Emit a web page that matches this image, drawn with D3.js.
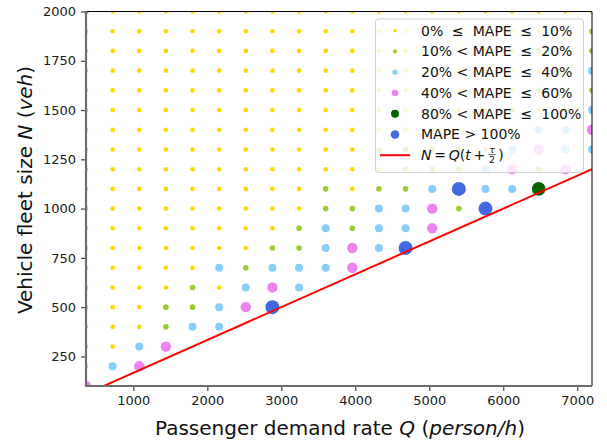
<!DOCTYPE html>
<html>
<head>
<meta charset="utf-8">
<script src="https://cdn.jsdelivr.net/npm/d3@7"></script>
<style>
  html, body { margin: 0; padding: 0; background: #fff; }
  svg { display: block; font-family: "DejaVu Sans", sans-serif; }
</style>
</head>
<body>
<svg id="chart" width="607" height="443"></svg>
<script>
// Passenger demand rate Q (person/h): grid columns
const demandRates = [360, 720, 1080, 1440, 1800, 2160, 2520, 2880, 3240, 3600,
                     3960, 4320, 4680, 5040, 5400, 5760, 6120, 6480, 6840, 7200];
// Vehicle fleet size N (veh): grid rows, top to bottom
const fleetSizes = [2000, 1900, 1800, 1700, 1600, 1500, 1400, 1300, 1200, 1100,
                    1000, 900, 800, 700, 600, 500, 400, 300, 200, 100];
// MAPE class of each simulated case (one string per fleet size, one char per demand rate)
// 0: 0-10%, 1: 10-20%, 2: 20-40%, 3: 40-60%, 4: 80-100%, 5: >100%, '.': infeasible
const mapeClassGrid = [
  "10000000000000000000",
  "00000000000000000001",
  "00000000000000000101",
  "00000000000000000002",
  "00000000000000000101",
  "00000000000001001002",
  "00000000000000000223",
  "00000000000111102322",
  "0000000000001112313.",
  "000000000101125224..",
  "0000000001122315....",
  "00000000121223......",
  "0000000112325.......",
  "00000212223.........",
  "000010232...........",
  "00011235............",
  "000122..............",
  "0023................",
  "023.................",
  "3..................."
];
const classLabels = [
  "0%  \u2264  MAPE  \u2264  10%",
  "10% < MAPE  \u2264  20%",
  "20% < MAPE  \u2264  40%",
  "40% < MAPE  \u2264  60%",
  "80% < MAPE  \u2264  100%",
  "MAPE > 100%"
];
const xTickValues = [1000, 2000, 3000, 4000, 5000, 6000, 7000];
const yTickValues = [250, 500, 750, 1000, 1250, 1500, 1750, 2000];
// t + tau/2 in hours (10 min)
const cycleFactor = 1 / 6;

// styling
const classColors = ["#ffd700", "#9acd32", "#87cefa", "#ee82ee", "#006400", "#4169e1"];
const classRadius = [2.3, 2.8, 4.0, 5.2, 6.8, 7.0];
const legendRadius = [1.8, 2.1, 2.6, 3.3, 4.0, 4.3];

const svg = d3.select("#chart");
const plot = { left: 86, right: 592, top: 11.5, bottom: 386 };

const x = d3.scaleLinear().domain([360, 7200]).range([plot.left, plot.right]);
const y = d3.scaleLinear().domain([100, 2000]).range([plot.bottom, plot.top]);

svg.append("defs").append("clipPath").attr("id", "plotClip")
  .append("rect")
  .attr("x", plot.left).attr("y", plot.top)
  .attr("width", plot.right - plot.left).attr("height", plot.bottom - plot.top);

// points
const cases = [];
fleetSizes.forEach((n, i) => {
  demandRates.forEach((q, j) => {
    const c = mapeClassGrid[i][j];
    if (c !== ".") cases.push({ q, n, cls: +c });
  });
});

const layer = svg.append("g").attr("clip-path", "url(#plotClip)");
layer.selectAll("circle.case")
  .data(cases)
  .join("circle")
  .attr("class", "case")
  .attr("cx", d => x(d.q))
  .attr("cy", d => y(d.n))
  .attr("r", d => classRadius[d.cls])
  .attr("fill", d => classColors[d.cls]);

// fleet-size boundary N = Q (t + tau/2)
const boundary = x.domain().map(q => ({ q, n: q * cycleFactor }));
layer.append("path")
  .datum(boundary)
  .attr("fill", "none")
  .attr("stroke", "#ff0000")
  .attr("stroke-width", 2)
  .attr("d", d3.line().x(d => x(d.q)).y(d => y(d.n)));

// axes
const fmt = d3.format("d");
const xAxis = svg.append("g")
  .attr("transform", `translate(0,${plot.bottom})`)
  .call(d3.axisBottom(x).tickValues(xTickValues).tickFormat(fmt)
    .tickSize(5).tickPadding(5).tickSizeOuter(0));
const yAxis = svg.append("g")
  .attr("transform", `translate(${plot.left},0)`)
  .call(d3.axisLeft(y).tickValues(yTickValues).tickFormat(fmt)
    .tickSize(5).tickPadding(5).tickSizeOuter(0));

[xAxis, yAxis].forEach(g => {
  g.select(".domain").remove();
  g.selectAll(".tick line").attr("stroke", "#444").attr("stroke-width", 1.2);
  g.selectAll(".tick text")
    .attr("fill", "#1a1a1a")
    .style("font-family", "DejaVu Sans")
    .style("font-size", "13px");
});

// spines
svg.append("line").attr("x1", plot.left).attr("x2", plot.right)
  .attr("y1", plot.top).attr("y2", plot.top)
  .attr("stroke", "#000").attr("stroke-width", 1);
svg.append("line").attr("x1", plot.right).attr("x2", plot.right)
  .attr("y1", plot.top).attr("y2", plot.bottom)
  .attr("stroke", "#000").attr("stroke-width", 1);
svg.append("line").attr("x1", plot.left).attr("x2", plot.left)
  .attr("y1", plot.top - 0.5).attr("y2", plot.bottom + 1)
  .attr("stroke", "#6e6e6e").attr("stroke-width", 2.2);
svg.append("line").attr("x1", plot.left - 1).attr("x2", plot.right)
  .attr("y1", plot.bottom).attr("y2", plot.bottom)
  .attr("stroke", "#6e6e6e").attr("stroke-width", 2.2);

// axis titles
const xTitle = svg.append("text")
  .attr("x", 340)
  .attr("y", 435)
  .attr("text-anchor", "middle")
  .style("font-size", "20px")
  .attr("fill", "#111");
xTitle.append("tspan").text("Passenger demand rate ");
xTitle.append("tspan").attr("font-style", "italic").text("Q");
xTitle.append("tspan").text(" (");
xTitle.append("tspan").attr("font-style", "italic").text("person/h");
xTitle.append("tspan").text(")");

const yTitle = svg.append("text")
  .attr("transform", `translate(32,190) rotate(-90)`)
  .attr("text-anchor", "middle")
  .style("font-size", "20px")
  .attr("fill", "#111");
yTitle.append("tspan").text("Vehicle fleet size ");
yTitle.append("tspan").attr("font-style", "italic").text("N");
yTitle.append("tspan").text(" (");
yTitle.append("tspan").attr("font-style", "italic").text("veh");
yTitle.append("tspan").text(")");

// legend
const legend = svg.append("g");
legend.append("rect")
  .attr("x", 375.5).attr("y", 19).attr("width", 208).attr("height", 153.5)
  .attr("rx", 3)
  .attr("fill", "#fff").attr("fill-opacity", 0.8)
  .attr("stroke", "#d0d0d0").attr("stroke-width", 1);

const rowY = i => 30.7 + i * 20.75;
classLabels.forEach((label, i) => {
  legend.append("circle")
    .attr("cx", 395).attr("cy", rowY(i))
    .attr("r", legendRadius[i])
    .attr("fill", classColors[i]);
  legend.append("text")
    .attr("x", 421).attr("y", rowY(i) + 5)
    .attr("xml:space", "preserve")
    .style("white-space", "pre")
    .style("font-size", "14px")
    .attr("fill", "#111")
    .text(label);
});

const lineRow = rowY(6);
legend.append("line")
  .attr("x1", 380).attr("x2", 410)
  .attr("y1", lineRow).attr("y2", lineRow)
  .attr("stroke", "#ff0000").attr("stroke-width", 2);

const eq = legend.append("text")
  .attr("x", 421).attr("y", lineRow + 5)
  .attr("xml:space", "preserve")
  .style("white-space", "pre")
  .style("font-size", "14px")
  .attr("fill", "#111");
eq.append("tspan").attr("font-style", "italic").text("N");
eq.append("tspan").text("\u2009=\u2009");
eq.append("tspan").attr("font-style", "italic").text("Q");
eq.append("tspan").text("(");
eq.append("tspan").attr("font-style", "italic").text("t");
eq.append("tspan").text("\u2009+\u2009");
const eqWidth = eq.node().getComputedTextLength();
const fracX = 421 + eqWidth + 4;
legend.append("text")
  .attr("x", fracX).attr("y", lineRow - 2)
  .attr("text-anchor", "middle")
  .style("font-size", "9.5px").attr("font-style", "italic")
  .attr("fill", "#111").text("\u03c4");
legend.append("line")
  .attr("x1", fracX - 3.5).attr("x2", fracX + 3.5)
  .attr("y1", lineRow - 0.5).attr("y2", lineRow - 0.5)
  .attr("stroke", "#111").attr("stroke-width", 0.7);
legend.append("text")
  .attr("x", fracX).attr("y", lineRow + 8)
  .attr("text-anchor", "middle")
  .style("font-size", "9.5px")
  .attr("fill", "#111").text("2");
legend.append("text")
  .attr("x", fracX + 6).attr("y", lineRow + 5)
  .style("font-size", "14px")
  .attr("fill", "#111").text(")");
</script>
</body>
</html>
